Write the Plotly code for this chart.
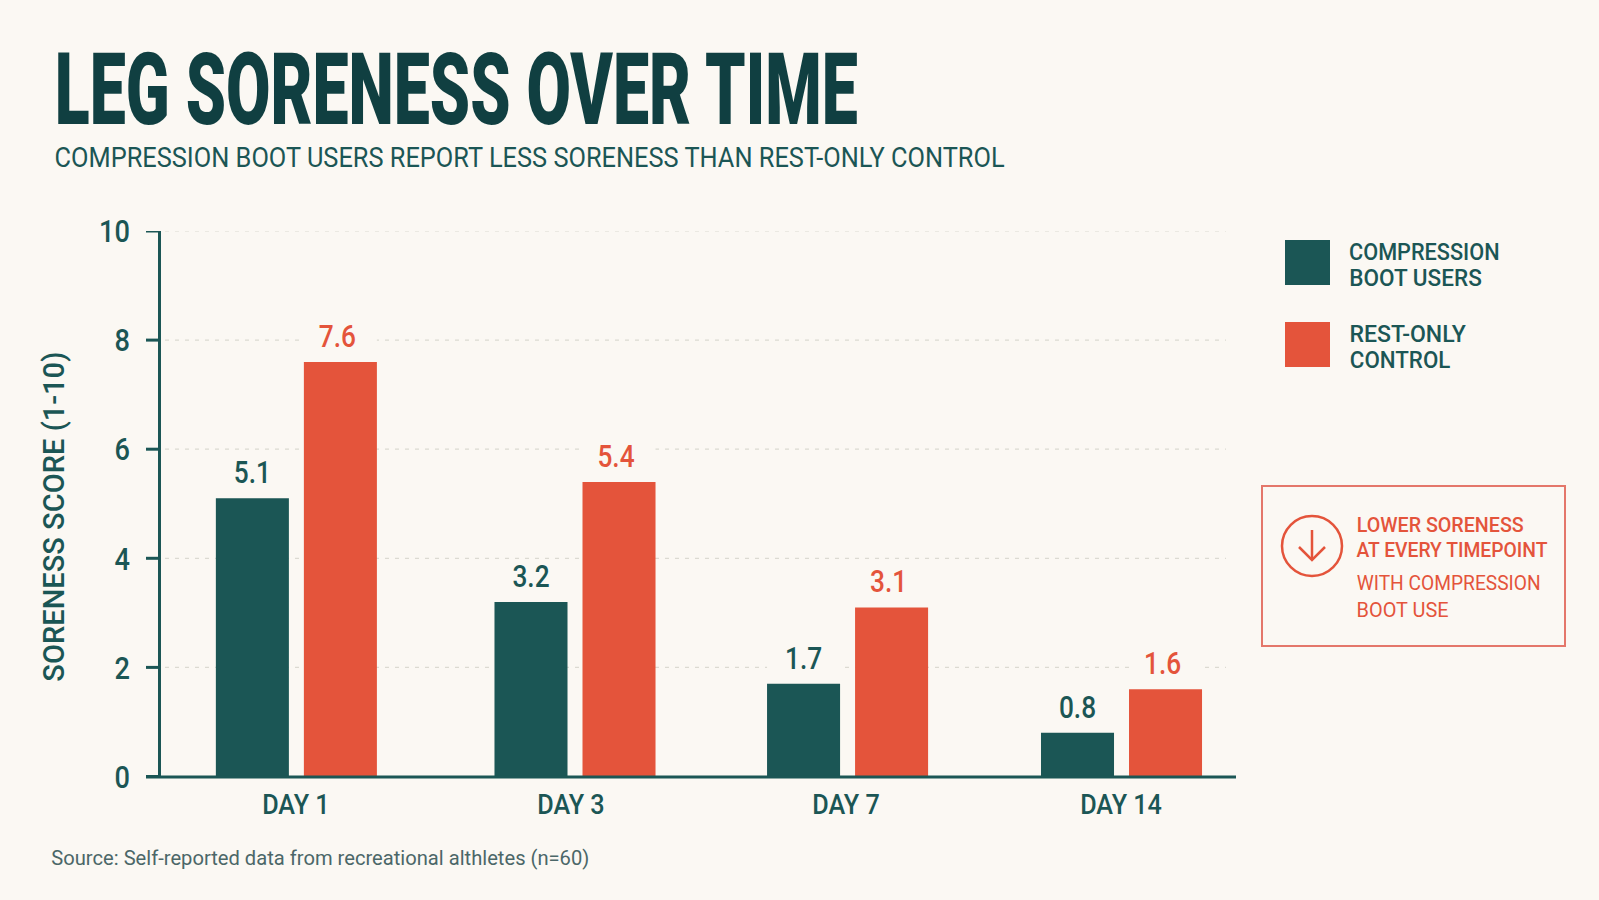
import json
import plotly.graph_objects as go

# Chart data
days = ["DAY 1", "DAY 3", "DAY 7", "DAY 14"]
boot_users = [5.1, 3.2, 1.7, 0.8]
rest_only = [7.6, 5.4, 3.1, 1.6]
y_ticks = [0, 2, 4, 6, 8, 10]

TITLE = "LEG SORENESS OVER TIME"
SUBTITLE = "COMPRESSION BOOT USERS REPORT LESS SORENESS THAN REST-ONLY CONTROL"
Y_TITLE = "SORENESS SCORE (1-10)"
SOURCE = "Source: Self-reported data from recreational althletes (n=60)"

BG = "#fbf8f3"
TEAL = "#1b5655"
DARK = "#103f41"
RED = "#e4543b"
BOX = "#e4776a"
GRID = "#dcdad2"
FONT = "Roboto"
W, H = 1599, 900

# Bar slot geometry in category units, with Day 3 nudged slightly right
BAR_WIDTH = 0.2655
NUDGE = [0, 0.013, 0.004, 0]
BOOT_START = -0.291
REST_START = 0.029


def px(x):
    return x / W


def py(y):
    return 1 - y / H


fitted = {}


def label(text, left, right, y, size, color, weight=400):
    """Centred text, squeezed afterwards to span left..right."""
    fitted[text] = right - left
    return dict(text=text, x=px((left + right) / 2), y=py(y), xref="paper", yref="paper",
                xanchor="center", yanchor="middle", showarrow=False,
                font=dict(family=FONT, size=size, color=color, weight=weight))


fig = go.Figure()
for name, values, color, start in [("Compression boot users", boot_users, TEAL, BOOT_START),
                                   ("Rest-only control", rest_only, RED, REST_START)]:
    fig.add_bar(x=days, y=values, name=name, marker=dict(color=color, line_width=0),
                width=BAR_WIDTH, offset=[start + n for n in NUDGE],
                text=[f"{v:.1f}" for v in values], textposition="outside",
                textfont=dict(family=FONT, size=32, color=color, weight=500), cliponaxis=False,
                showlegend=False)

shapes = []
# Dotted gridlines stop a little short of the x axis end
for t in y_ticks[1:]:
    shapes.append(dict(type="line", xref="paper", yref="y", x0=px(165), x1=px(1226), y0=t, y1=t,
                       layer="below", line=dict(color=GRID, width=1.2, dash="4px,6px")))
# Gridlines break wherever a value label sits on them
for values, start in [(boot_users, BOOT_START), (rest_only, REST_START)]:
    for i, v in enumerate(values):
        for t in y_ticks[1:]:
            if 0 < t - v < 0.7:
                x0 = i + start + NUDGE[i]
                shapes.append(dict(type="rect", xref="x", yref="y", x0=x0, x1=x0 + BAR_WIDTH,
                                   y0=t - 0.2, y1=t + 0.2, layer="below", fillcolor=BG, line_width=0))
# Axis spines and tick marks
for t in y_ticks:
    shapes.append(dict(type="line", xref="paper", yref="y", x0=px(146), x1=px(159), y0=t, y1=t,
                       line=dict(color=TEAL, width=3)))
shapes.append(dict(type="line", xref="paper", yref="paper", x0=px(159.5), x1=px(159.5), y0=py(231), y1=py(777),
                   line=dict(color=TEAL, width=3)))
shapes.append(dict(type="line", xref="paper", yref="paper", x0=px(146), x1=px(1236), y0=py(777), y1=py(777),
                   line=dict(color=TEAL, width=3)))
# Legend swatches
shapes.append(dict(type="rect", xref="paper", yref="paper", x0=px(1285), x1=px(1330), y0=py(240), y1=py(285),
                   fillcolor=TEAL, line_width=0))
shapes.append(dict(type="rect", xref="paper", yref="paper", x0=px(1285), x1=px(1330), y0=py(322), y1=py(367),
                   fillcolor=RED, line_width=0))
# Callout frame, circle and down arrow
shapes.append(dict(type="rect", xref="paper", yref="paper", x0=px(1262), x1=px(1565), y0=py(486), y1=py(646),
                   line=dict(color=BOX, width=2)))
shapes.append(dict(type="circle", xref="paper", yref="paper", x0=px(1282), x1=px(1342), y0=py(516), y1=py(576),
                   line=dict(color=RED, width=2.5)))
shapes.append(dict(type="line", xref="paper", yref="paper", x0=px(1312), x1=px(1312), y0=py(530), y1=py(560),
                   line=dict(color=RED, width=2.5)))
shapes.append(dict(type="path", xref="paper", yref="paper",
                   path=f"M {px(1299)} {py(547)} L {px(1312)} {py(560)} L {px(1325)} {py(547)}",
                   line=dict(color=RED, width=2.5)))

y_title = label(Y_TITLE, 352, 682, 517, 30, TEAL, weight=500)
y_title.update(x=px(53), textangle=-90)

annotations = [
    label(TITLE, 54, 857, 90, 100, DARK, weight=900),
    label(SUBTITLE, 54, 1004, 158, 27, TEAL),
    y_title,
    label("COMPRESSION", 1349.5, 1500, 252, 24, TEAL, weight=500),
    label("BOOT USERS", 1349.5, 1482, 278, 24, TEAL, weight=500),
    label("REST-ONLY", 1349.5, 1466, 333.5, 24, TEAL, weight=500),
    label("CONTROL", 1349.5, 1450, 360, 24, TEAL, weight=500),
    label("LOWER SORENESS", 1356, 1523, 525, 21, RED, weight=500),
    label("AT EVERY TIMEPOINT", 1356, 1547, 550, 21, RED, weight=500),
    label("WITH COMPRESSION", 1356, 1540, 583, 21, RED),
    label("BOOT USE", 1356, 1448, 610, 21, RED),
    label(SOURCE, 51, 589, 858, 21, "#4b6768"),
]

fig.update_layout(
    width=W, height=H, autosize=False,
    margin=dict(l=0, r=0, t=0, b=0, autoexpand=False),
    paper_bgcolor=BG, plot_bgcolor=BG,
    shapes=shapes, annotations=annotations,
    xaxis=dict(domain=[px(146), px(1236)], range=[-0.545, 3.418], type="category",
               categoryorder="array", categoryarray=days,
               showgrid=False, zeroline=False, showline=False, ticks="",
               ticklabelstandoff=8,
               tickfont=dict(family=FONT, size=28, color=TEAL, weight=500)),
    yaxis=dict(domain=[py(776.5), py(231)], range=[0, 10], tickvals=y_ticks,
               showgrid=False, zeroline=False, showline=False, ticks="",
               ticklabelstandoff=16, anchor="free", position=px(146),
               tickfont=dict(family=FONT, size=32, color=TEAL, weight=500)),
)

# Condense text: annotations to their set spans, axis and bar labels by a fixed ratio
post = """
var spans = %s;
function condense(t, length) {
  t.setAttribute('textLength', length);
  t.setAttribute('lengthAdjust', 'spacingAndGlyphs');
}
document.querySelectorAll('.annotation-text').forEach(function (t) {
  var span = spans[t.textContent];
  if (span) { condense(t, span); }
});
document.querySelectorAll('.xtick text').forEach(function (t) { condense(t, t.getComputedTextLength() * 0.9); });
document.querySelectorAll('.ytick text').forEach(function (t) { condense(t, t.getComputedTextLength() * 0.85); });
document.querySelectorAll('.barlayer .trace').forEach(function (trace, index) {
  trace.querySelectorAll('.bartext').forEach(function (t) {
    condense(t, t.getComputedTextLength() * 0.82);
    t.setAttribute('y', parseFloat(t.getAttribute('y')) - 4);
    // control labels sit a touch left of their bars
    if (index === 1) { t.setAttribute('x', parseFloat(t.getAttribute('x')) - 3); }
  });
});
""" % json.dumps(fitted)
fig.write_html("out.html", post_script=post, config={"displayModeBar": False})
